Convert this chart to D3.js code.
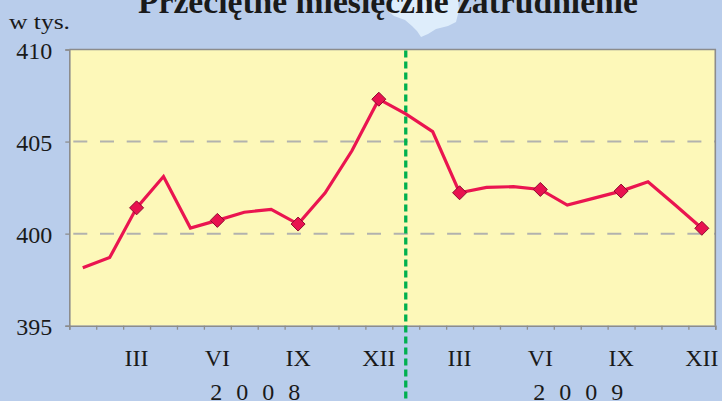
<!DOCTYPE html>
<html><head><meta charset="utf-8">
<script src="https://cdn.jsdelivr.net/npm/d3@7"></script>
<style>
html,body{margin:0;padding:0;background:#b9cdeb;}
svg{display:block;}
text{font-family:"Liberation Serif","Times New Roman",serif;fill:#1a1a1a;}
</style></head>
<body><svg id="c" width="722" height="401"></svg>
<script>
const title = "Przeciętne miesięczne zatrudnienie";
const unitLabel = "w tys.";
const years = ["2008", "2009"];
const months = ["I","II","III","IV","V","VI","VII","VIII","IX","X","XI","XII"];
const labelledMonths = ["III","VI","IX","XII"];
const values2008 = [398.15, 398.7, 401.4, 403.1, 400.3, 400.72, 401.16, 401.32, 400.52, 402.2, 404.5, 407.3];
const values2009 = [406.5, 405.54, 402.22, 402.51, 402.55, 402.4, 401.55, 401.93, 402.31, 402.82, 401.57, 400.29];
const yTicks = [395, 400, 405, 410];
const gridValues = [400, 405];
const separatorAt = "2009-I";

const data = [];
years.forEach((yr, yi) => {
  const vals = yi === 0 ? values2008 : values2009;
  months.forEach((m, mi) => data.push({key: yr + "-" + m, year: yr, month: m, value: vals[mi]}));
});

const svg = d3.select("#c");
const L = 69.3, R = 715.3, T = 49.5, B = 325.7;

const x = d3.scaleBand().domain(data.map(d => d.key)).range([L, R]).padding(0);
const xEdge = d3.scaleLinear().domain([0, data.length]).range([L, R]);
const y = d3.scaleLinear().domain([395, 410]).range([B, T]);

// decorative light blob behind title
svg.append("path")
  .attr("d", "M389,0 L389,12 L394,16 L405,20 L412,26 L417,31 L421,37 L428,34 L436,29 L448,26 L456,22 L459,10 L458,0 Z")
  .attr("fill", "#deedfb");

// title
svg.append("text").attr("x", 388).attr("y", 13).attr("text-anchor", "middle")
  .attr("font-size", 34).attr("font-weight", "bold")
  .attr("textLength", 500).attr("lengthAdjust", "spacingAndGlyphs")
  .text(title);

svg.append("text").attr("x", 9).attr("y", 28.5).attr("font-size", 22)
  .attr("textLength", 61).attr("lengthAdjust", "spacingAndGlyphs").text(unitLabel);

// plot background
svg.append("rect").attr("x", L).attr("y", T).attr("width", R - L).attr("height", B - T).attr("fill", "#fdf8b9");

// gridlines
svg.append("g").selectAll("line").data(gridValues).join("line")
  .attr("x1", L).attr("x2", R).attr("y1", d => y(d)).attr("y2", d => y(d))
  .attr("stroke", "#b2b2ae").attr("stroke-width", 2).attr("stroke-dasharray", "14,12.7")
  .attr("stroke-dashoffset", -4);

// frame top & right
svg.append("path").attr("d", `M${L},${T} H${R} V${B}`).attr("fill", "none")
  .attr("stroke", "#8c8c8c").attr("stroke-width", 1.6);

// y axis
const yAxis = svg.append("g").attr("transform", `translate(${L},0)`)
  .call(d3.axisLeft(y).tickValues(yTicks).tickSize(4).tickPadding(13).tickFormat(d3.format("d")));
yAxis.select(".domain").attr("stroke", "#8c8c8c").attr("stroke-width", 1.6);
yAxis.selectAll(".tick line").attr("stroke", "#8c8c8c").attr("stroke-width", 1.3);
yAxis.selectAll(".tick text").attr("font-size", 24).attr("font-family", "Liberation Serif, serif")
  .attr("fill", "#1a1a1a").attr("dy", "0.37em");

// x axis (ticks at band boundaries)
const xAxis = svg.append("g").attr("transform", `translate(0,${B})`)
  .call(d3.axisBottom(xEdge).tickValues(d3.range(data.length + 1)).tickSize(4).tickFormat(""));
xAxis.select(".domain").attr("stroke", "#8c8c8c").attr("stroke-width", 1.6);
xAxis.selectAll(".tick line").attr("stroke", "#8c8c8c").attr("stroke-width", 1.3);

// month labels
svg.append("g").selectAll("text").data(data.filter(d => labelledMonths.includes(d.month))).join("text")
  .attr("x", d => x(d.key) + x.bandwidth() / 2).attr("y", 366)
  .attr("text-anchor", "middle").attr("font-size", 24).text(d => d.month);

// year labels
svg.append("g").selectAll("text").data(years).join("text")
  .attr("x", yr => x(yr + "-I") + 141).attr("y", 399.5)
  .attr("font-size", 24).attr("letter-spacing", 14).text(yr => yr);

// separator
const sx = x(separatorAt) + x.bandwidth() / 2;
svg.append("line").attr("x1", sx).attr("x2", sx).attr("y1", T + 1).attr("y2", 401)
  .attr("stroke", "#00b04f").attr("stroke-width", 3.3).attr("stroke-dasharray", "7,4");

// line
const line = d3.line().x(d => x(d.key) + x.bandwidth() / 2).y(d => y(d.value));
svg.append("path").datum(data).attr("d", line).attr("fill", "none")
  .attr("stroke", "#ea1550").attr("stroke-width", 3.2).attr("stroke-linejoin", "miter");

// diamond markers
svg.append("g").selectAll("path").data(data.filter(d => labelledMonths.includes(d.month))).join("path")
  .attr("transform", d => `translate(${x(d.key) + x.bandwidth() / 2},${y(d.value)})`)
  .attr("d", "M0,-7 L7,0 L0,7 L-7,0 Z")
  .attr("fill", "#e8124f").attr("stroke", "#8e0a30").attr("stroke-width", 1);
</script></body></html>
